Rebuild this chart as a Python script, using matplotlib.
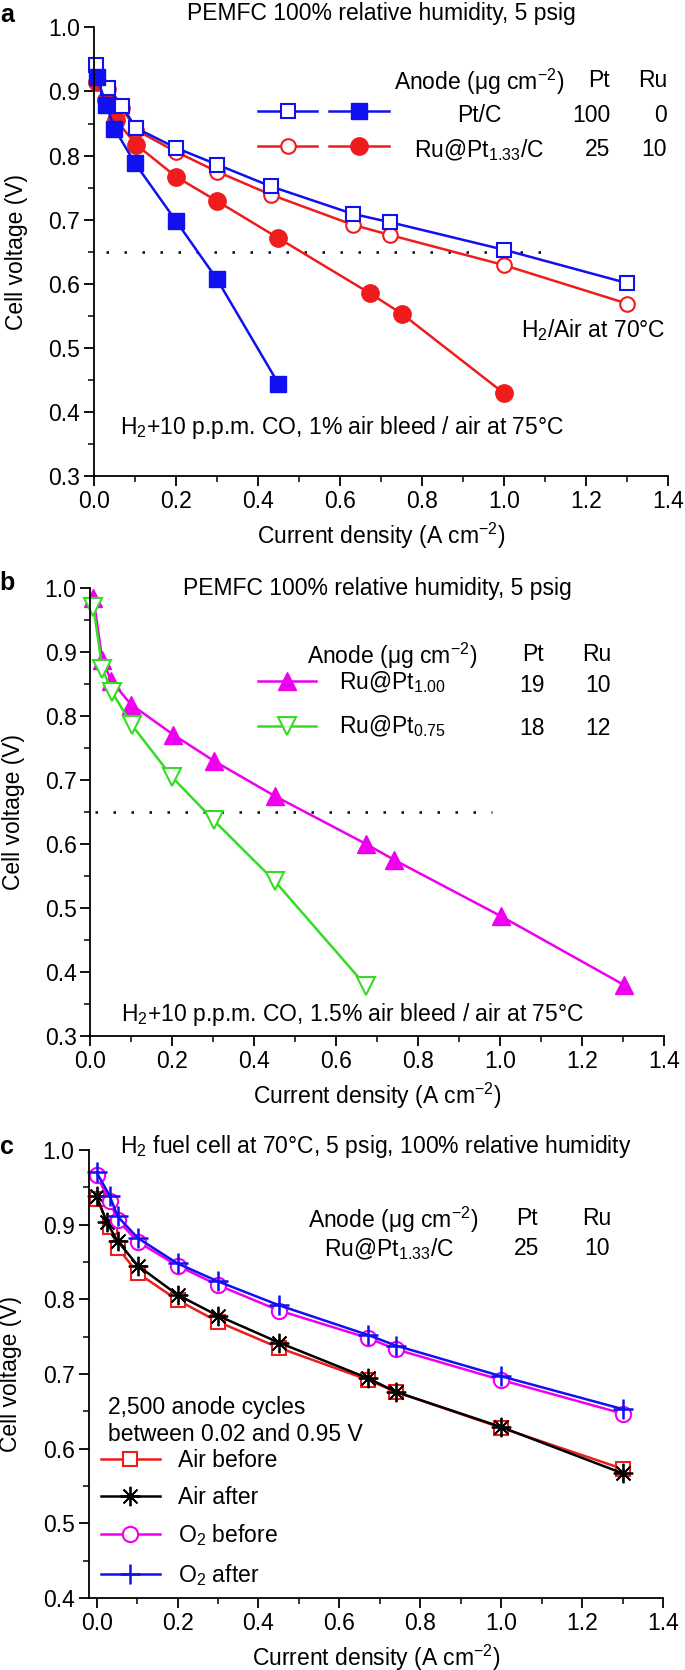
import matplotlib
matplotlib.use("Agg")
import matplotlib.pyplot as plt
from matplotlib.ticker import MultipleLocator, FormatStrFormatter
from matplotlib.legend_handler import HandlerTuple

plt.rcParams['font.family'] = ['Liberation Sans', 'DejaVu Sans']
plt.rcParams['font.size'] = 16.5
plt.rcParams['mathtext.fontset'] = 'custom'
plt.rcParams['mathtext.rm'] = 'Liberation Sans'
plt.rcParams['mathtext.it'] = 'Liberation Sans:italic'
plt.rcParams['mathtext.bf'] = 'Liberation Sans:bold'

FS = 16.5

# colours
BLUE = '#1010f0'
RED = '#ee1c1c'
MAGENTA = '#ee00ee'
GREEN = '#33dd22'

# ---- panel a data ----
a_ptc_air_x = [0.005, 0.035, 0.069, 0.102, 0.2, 0.3, 0.431, 0.631, 0.722, 1.0, 1.3]
a_ptc_air_y = [0.941, 0.906, 0.877, 0.843, 0.812, 0.786, 0.752, 0.709, 0.696, 0.653, 0.601]
a_ptc_co_x = [0.007, 0.03, 0.05, 0.1, 0.2, 0.3, 0.45]
a_ptc_co_y = [0.923, 0.879, 0.842, 0.788, 0.698, 0.607, 0.444]
a_ru_air_x = [0.008, 0.035, 0.069, 0.102, 0.2, 0.3, 0.431, 0.631, 0.722, 1.0, 1.3]
a_ru_air_y = [0.917, 0.904, 0.874, 0.840, 0.806, 0.775, 0.739, 0.692, 0.676, 0.629, 0.569]
a_ru_co_x = [0.008, 0.03, 0.053, 0.103, 0.2, 0.3, 0.45, 0.673, 0.751, 1.0]
a_ru_co_y = [0.915, 0.887, 0.856, 0.817, 0.767, 0.729, 0.671, 0.585, 0.553, 0.429]

# ---- panel b data ----
b_ru100_x = [0.007, 0.029, 0.051, 0.099, 0.202, 0.301, 0.45, 0.673, 0.742, 1.003, 1.302]
b_ru100_y = [0.985, 0.887, 0.855, 0.818, 0.771, 0.730, 0.675, 0.600, 0.575, 0.487, 0.380]
b_ru075_x = [0.007, 0.029, 0.053, 0.101, 0.2, 0.301, 0.45, 0.673]
b_ru075_y = [0.971, 0.874, 0.837, 0.786, 0.704, 0.637, 0.542, 0.378]

# ---- panel c data ----
c_x = [0.0, 0.032, 0.052, 0.102, 0.2, 0.3, 0.451, 0.672, 0.74, 1.0, 1.3]
c_air_before = [0.935, 0.897, 0.869, 0.835, 0.799, 0.770, 0.735, 0.692, 0.676, 0.628, 0.573]
c_air_after_x = [0.0, 0.025, 0.052, 0.102, 0.2, 0.3, 0.451, 0.672, 0.74, 1.0, 1.3]
c_air_after = [0.939, 0.903, 0.878, 0.845, 0.806, 0.778, 0.742, 0.694, 0.676, 0.629, 0.567]
c_o2_before = [0.966, 0.932, 0.906, 0.877, 0.845, 0.819, 0.785, 0.748, 0.733, 0.692, 0.647]
c_o2_after = [0.970, 0.939, 0.911, 0.882, 0.848, 0.824, 0.792, 0.752, 0.738, 0.697, 0.653]

ref_voltage = 0.65
a_ref_span = (0.03, 1.09)
b_ref_span = (0.01, 0.98)

title_pemfc = 'PEMFC 100% relative humidity, 5 psig'
title_c = 'H$_2$ fuel cell at 70°C, 5 psig, 100% relative humidity'
anode_hdr = 'Anode (μg cm$^{-2}$)'
xlabel = 'Current density (A cm$^{-2}$)'
ylabel = 'Cell voltage (V)'

fig = plt.figure(figsize=(6.85, 16.7), dpi=100)
ax_a = fig.add_axes([0.1372, 0.7150, 0.838, 0.2686])
ax_b = fig.add_axes([0.1321, 0.3796, 0.8372, 0.2683])
ax_c = fig.add_axes([0.1292, 0.0431, 0.8387, 0.2683])


def style(ax, ymin, xmin):
    for s in ['top', 'right']:
        ax.spines[s].set_visible(False)
    for s in ['left', 'bottom']:
        ax.spines[s].set_linewidth(1.3)
    ax.set_xlim(xmin, 1.4)
    ax.set_ylim(ymin, 1.0)
    ax.xaxis.set_major_locator(MultipleLocator(0.2))
    ax.xaxis.set_minor_locator(MultipleLocator(0.1))
    ax.yaxis.set_major_locator(MultipleLocator(0.1))
    ax.yaxis.set_minor_locator(MultipleLocator(0.05))
    ax.xaxis.set_major_formatter(FormatStrFormatter('%.1f'))
    ax.yaxis.set_major_formatter(FormatStrFormatter('%.1f'))
    ax.tick_params(which='major', direction='out', length=7, width=1.3, labelsize=FS, pad=3)
    ax.tick_params(which='minor', direction='out', length=4, width=1.1)
    ax.set_xlabel(xlabel, fontsize=FS)
    ax.set_ylabel(ylabel, fontsize=FS)
    ax.yaxis.set_label_coords(-0.115, 0.5)
    ax.xaxis.set_label_coords(0.5, -0.10)


lw = 1.8
mew = 1.5
dots = (0, (1, 6.2))

# ---------------- panel a ----------------
ax = ax_a
style(ax, 0.3, 0.0)
ax.hlines(ref_voltage, *a_ref_span, colors='black', linestyles=dots, linewidth=1.8)
l_ru_air, = ax.plot(a_ru_air_x, a_ru_air_y, '-o', color=RED, lw=lw, ms=10.5, mfc='white', mew=mew, clip_on=False)
l_ru_co, = ax.plot(a_ru_co_x, a_ru_co_y, '-o', color=RED, lw=lw, ms=12.5, clip_on=False)
l_pt_air, = ax.plot(a_ptc_air_x, a_ptc_air_y, '-s', color=BLUE, lw=lw, ms=10, mfc='white', mew=mew, clip_on=False)
l_pt_co, = ax.plot(a_ptc_co_x, a_ptc_co_y, '-s', color=BLUE, lw=lw, ms=11.5, clip_on=False)
ax.legend([(l_pt_air, l_pt_co), (l_ru_air, l_ru_co)], ['', ''],
          handler_map={tuple: HandlerTuple(ndivide=None, pad=0.52)},
          handlelength=5.7, numpoints=1, frameon=False, borderpad=0, borderaxespad=0,
          handletextpad=0, labelspacing=0.55, loc='center left',
          bbox_to_anchor=(0.40, 0.84), bbox_transform=ax.transData)
ax.text(0.939, 0.921, anode_hdr, ha='center', va='center_baseline')
ax.text(1.259, 0.921, 'Pt', ha='right', va='center_baseline')
ax.text(1.398, 0.921, 'Ru', ha='right', va='center_baseline')
ax.text(0.939, 0.867, 'Pt/C', ha='center', va='center_baseline')
ax.text(1.259, 0.867, '100', ha='right', va='center_baseline')
ax.text(1.398, 0.867, '0', ha='right', va='center_baseline')
ax.text(0.939, 0.813, 'Ru@Pt$_{1.33}$/C', ha='center', va='center_baseline')
ax.text(1.259, 0.813, '25', ha='right', va='center_baseline')
ax.text(1.398, 0.813, '10', ha='right', va='center_baseline')
ax.text(1.395, 0.533, 'H$_2$/Air at 70°C', ha='right', va='center_baseline')
ax.text(0.064, 0.381, 'H$_2$+10 p.p.m. CO, 1% air bleed / air at 75°C', ha='left', va='center_baseline')
ax.text(0.5, 1.032, title_pemfc, transform=ax.transAxes, ha='center', va='center')

# ---------------- panel b ----------------
ax = ax_b
style(ax, 0.3, 0.0)
ax.hlines(ref_voltage, *b_ref_span, colors='black', linestyles=dots, linewidth=1.8)
l_b1, = ax.plot(b_ru100_x, b_ru100_y, '-^', color=MAGENTA, lw=lw, ms=13, clip_on=False)
l_b2, = ax.plot(b_ru075_x, b_ru075_y, '-v', color=GREEN, lw=lw, ms=13, mfc='white', mew=mew, clip_on=False)
ax.legend([l_b1, l_b2], ['Ru@Pt$_{1.00}$', 'Ru@Pt$_{0.75}$'], handlelength=2.53, numpoints=1,
          frameon=False, borderpad=0, borderaxespad=0, handletextpad=1.0, labelspacing=0.8,
          loc='center left', bbox_to_anchor=(0.408, 0.818), bbox_transform=ax.transData)
ax.text(0.735, 0.900, anode_hdr, ha='center', va='center_baseline')
ax.text(1.081, 0.900, 'Pt', ha='center', va='center_baseline')
ax.text(1.235, 0.900, 'Ru', ha='center', va='center_baseline')
ax.text(1.079, 0.851, '19', ha='center', va='center_baseline')
ax.text(1.240, 0.851, '10', ha='center', va='center_baseline')
ax.text(1.079, 0.785, '18', ha='center', va='center_baseline')
ax.text(1.240, 0.785, '12', ha='center', va='center_baseline')
ax.text(0.0745, 0.339, 'H$_2$+10 p.p.m. CO, 1.5% air bleed / air at 75°C', ha='left', va='center_baseline')
ax.text(0.5, 1.0, title_pemfc, transform=ax.transAxes, ha='center', va='center')

# ---------------- panel c ----------------
ax = ax_c
style(ax, 0.4, -0.02)
l_c1, = ax.plot(c_x, c_air_before, '-s', color=RED, lw=lw, ms=10.5, mfc='white', mew=mew, clip_on=False)
l_c2, = ax.plot(c_air_after_x, c_air_after, '-', marker=(8, 2, 0), color='black', lw=lw, ms=14, mew=1.3, clip_on=False)
l_c3, = ax.plot(c_x, c_o2_before, '-o', color=MAGENTA, lw=lw, ms=11, mfc='white', mew=mew, clip_on=False)
l_c4, = ax.plot(c_x, c_o2_after, '-+', color=BLUE, lw=lw, ms=14, mew=1.8, clip_on=False)
ax.legend([l_c1, l_c2, l_c3, l_c4], ['Air before', 'Air after', 'O$_2$ before', 'O$_2$ after'],
          handlelength=2.58, numpoints=1, frameon=False, borderpad=0, borderaxespad=0,
          handletextpad=0.79, labelspacing=0.6, loc='center left',
          bbox_to_anchor=(0.01, 0.5065), bbox_transform=ax.transData)
ax.text(0.734, 0.9116, anode_hdr, ha='center', va='center_baseline')
ax.text(1.063, 0.9116, 'Pt', ha='center', va='center_baseline')
ax.text(1.236, 0.9116, 'Ru', ha='center', va='center_baseline')
ax.text(0.723, 0.871, 'Ru@Pt$_{1.33}$/C', ha='center', va='center_baseline')
ax.text(1.063, 0.871, '25', ha='center', va='center_baseline')
ax.text(1.236, 0.871, '10', ha='center', va='center_baseline')
ax.text(0.027, 0.658, '2,500 anode cycles', ha='left', va='center_baseline')
ax.text(0.027, 0.622, 'between 0.02 and 0.95 V', ha='left', va='center_baseline')
ax.text(0.5, 1.007, title_c, transform=ax.transAxes, ha='center', va='center')

# panel letters
fig.text(0.0102, 1 - 15 / 1670, 'a', fontsize=18, fontweight='bold', ha='center', va='center')
fig.text(0.0102, 1 - 583 / 1670, 'b', fontsize=18, fontweight='bold', ha='center', va='center')
fig.text(0.0102, 1 - 1147 / 1670, 'c', fontsize=18, fontweight='bold', ha='center', va='center')

fig.savefig('out.png', dpi=100)
